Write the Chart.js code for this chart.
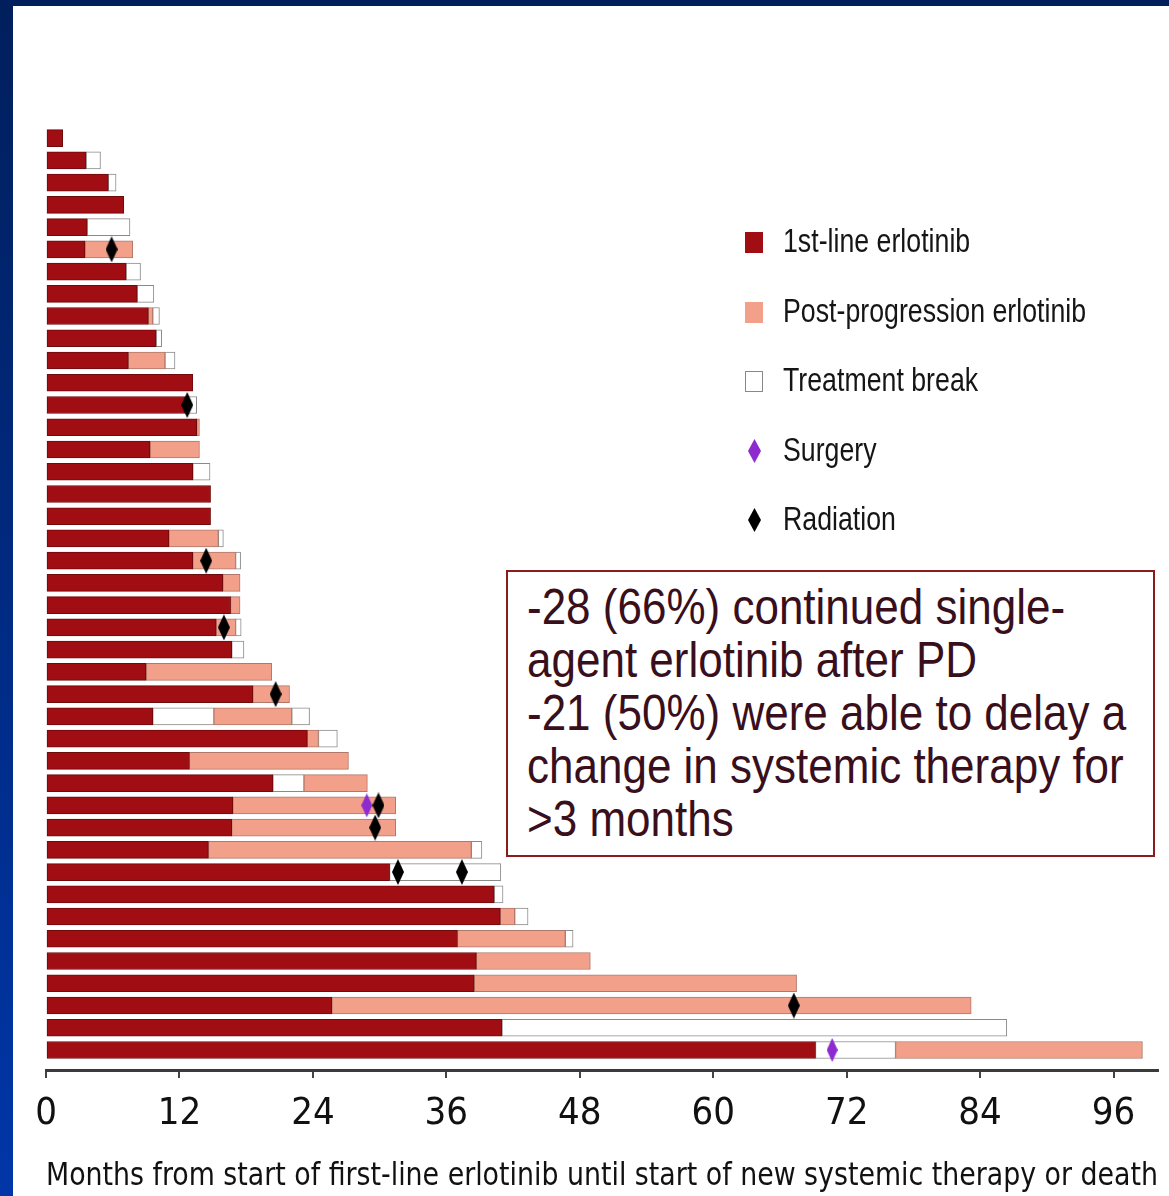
<!DOCTYPE html>
<html>
<head>
<meta charset="utf-8">
<script src="https://cdn.jsdelivr.net/npm/chart.js@4.4.1/dist/chart.umd.min.js"></script>
<style>
  body { margin: 0; background: #fff; }
  #slide { position: relative; width: 1169px; height: 1196px; overflow: hidden; background: #fff; color: #111; }
  #topband { position: absolute; left: 0; top: 0; width: 1169px; height: 6px; background: #001f5c; }
  #leftband { position: absolute; left: 0; top: 0; width: 13px; height: 1196px;
              background: linear-gradient(#001f5c, #0036a8); }
  canvas { position: absolute; left: 0; top: 0; }
  .mark { position: absolute; left: 745px; box-sizing: border-box; }
  .sq { width: 18px; height: 21px; }
  .dia { width: 13px; height: 24px; left: 748px; clip-path: polygon(50% 0, 100% 50%, 50% 100%, 0 50%); }
  .lab { position: absolute; left: 783px; font-family: 'Liberation Sans', Arial, sans-serif; font-size: 33px;
         line-height: 40px; white-space: nowrap; transform: scaleX(0.81); transform-origin: left top; color: #151515; }
  #note { position: absolute; left: 506px; top: 570px; width: 649px; height: 287px; box-sizing: border-box;
          border: 2px solid #8b1c1c; background: #fff; }
  #note div { position: absolute; left: 19px; top: 9px; transform: scaleX(0.88); transform-origin: left top;
              font-family: 'Liberation Sans', Arial, sans-serif; font-size: 50px; line-height: 53px;
              color: #3a0f1c; white-space: nowrap; }
</style>
</head>
<body>
<div id="slide">
  <canvas id="swimmer" width="1169" height="1196"></canvas>
  <div id="topband"></div>
  <div id="leftband"></div>

  <div class="mark sq" style="top:232px;background:#a00d12;"></div>
  <div class="lab" style="top:221px;">1st-line erlotinib</div>
  <div class="mark sq" style="top:302px;background:#f2a08a;"></div>
  <div class="lab" style="top:291px;">Post-progression erlotinib</div>
  <div class="mark sq" style="top:371px;background:#fff;border:1.5px solid #888;"></div>
  <div class="lab" style="top:360px;">Treatment break</div>
  <div class="mark dia" style="top:439px;background:#8e2bd0;"></div>
  <div class="lab" style="top:430px;">Surgery</div>
  <div class="mark dia" style="top:508px;background:#000;"></div>
  <div class="lab" style="top:499px;">Radiation</div>

  <div id="note"><div>-28 (66%) continued single-<br>agent erlotinib after PD<br>-21 (50%) were able to delay a<br>change in systemic therapy for<br>&gt;3 months</div></div>
</div>

<script>
// months from start of first-line erlotinib, one entry per patient (top to bottom)
const firstLine = [1.5, 3.6, 5.6, 7.0, 3.7, 3.5, 7.2, 8.2, 9.2, 9.9, 7.4, 13.2, 12.5, 13.55, 9.35, 13.2, 14.8, 14.8,
  11.05, 13.2, 15.9, 16.6, 15.3, 16.7, 9.0, 18.6, 9.6, 23.5, 12.9, 20.4, 16.8, 16.7, 14.6, 30.9, 40.3, 40.85,
  37.0, 38.7, 38.5, 25.7, 41.0, 69.2];

const postProg = [null, null, null, null, null, [3.5, 7.8], null, null, [9.2, 9.6], null, [7.4, 10.7], null, null,
  [13.55, 13.8], [9.35, 13.8], null, null, null, [11.05, 15.5], [13.2, 17.05], [15.9, 17.45], [16.6, 17.45],
  [15.3, 17.05], null, [9.0, 20.3], [18.6, 21.9], [15.1, 22.1], [23.5, 24.5], [12.9, 27.2], [23.2, 28.9],
  [16.8, 31.45], [16.7, 31.45], [14.6, 38.25], null, null, [40.85, 42.15], [37.0, 46.7], [38.7, 48.95],
  [38.5, 67.5], [25.7, 83.2], null, [76.4, 98.6]];

const breaks = [null, [3.6, 4.9], [5.6, 6.3], null, [3.7, 7.55], null, [7.2, 8.5], [8.2, 9.7], [9.6, 10.2],
  [9.9, 10.4], [10.7, 11.6], null, [12.5, 13.55], null, null, [13.2, 14.75], null, null, [15.5, 15.95],
  [17.05, 17.5], null, null, [17.05, 17.55], [16.7, 17.8], null, null, [9.6, 15.1], [24.5, 26.2], null,
  [20.4, 23.2], null, null, [38.25, 39.2], [30.9, 40.9], [40.3, 41.1], [42.15, 43.35], [46.7, 47.4], null,
  null, null, [41.0, 86.4], [69.2, 76.4]];

// second treatment break (row, start, end)
const secondBreak = [[26, 22.1, 23.7]];

const radiationRows = [5, 12, 19, 22, 25, 30, 31, 33, 33, 39];
const radiationMonths = [5.9, 12.7, 14.4, 16.0, 20.65, 29.9, 29.6, 31.65, 37.4, 67.25];
const surgeryRows = [30, 41];
const surgeryMonths = [28.85, 70.7];

const xTicks = [0, 12, 24, 36, 48, 60, 72, 84, 96];
const patients = firstLine.map((_, i) => i);

function diamond(color, w, h) {
  const c = document.createElement('canvas');
  c.width = w; c.height = h;
  const g = c.getContext('2d');
  g.fillStyle = color;
  g.beginPath();
  g.moveTo(w / 2, 0); g.lineTo(w, h / 2); g.lineTo(w / 2, h); g.lineTo(0, h / 2);
  g.closePath(); g.fill();
  return c;
}

const narrow = "'DejaVu Sans Condensed', sans-serif";

const barBase = { type: 'bar', borderWidth: 1, borderSkipped: false, barThickness: 17, order: 2 };

new Chart(document.getElementById('swimmer'), {
  data: {
    labels: patients,
    datasets: [
      { ...barBase, label: '1st-line erlotinib', data: firstLine.map(v => [0, v]),
        backgroundColor: '#a00d12', borderColor: '#6e0a0c' },
      { ...barBase, label: 'Post-progression erlotinib', data: postProg,
        backgroundColor: '#f2a08a', borderColor: '#b0786a' },
      { ...barBase, label: 'Treatment break', data: breaks,
        backgroundColor: '#ffffff', borderColor: '#8a8a8a' },
      { ...barBase, label: 'Treatment break', data: secondBreak.map(b => ({ y: b[0], x: [b[1], b[2]] })),
        backgroundColor: '#ffffff', borderColor: '#8a8a8a' },
      { type: 'scatter', label: 'Surgery', order: 0,
        data: surgeryRows.map((r, i) => ({ x: surgeryMonths[i], y: r })),
        pointStyle: diamond('#8e2bd0', 11, 24) },
      { type: 'scatter', label: 'Radiation', order: 0,
        data: radiationRows.map((r, i) => ({ x: radiationMonths[i], y: r })),
        pointStyle: diamond('#000000', 12, 26) }
    ]
  },
  options: {
    indexAxis: 'y',
    responsive: false,
    animation: false,
    grouped: false,
    events: [],
    layout: { padding: { left: 46, right: 11, top: 127, bottom: 0 } },
    plugins: { legend: { display: false }, tooltip: { enabled: false } },
    scales: {
      y: {
        type: 'linear', reverse: true, min: -0.5, max: 41.9, offset: false, grace: 0, display: false,
        afterBuildTicks: s => { s.min = -0.5; s.max = 41.9; }
      },
      x: {
        type: 'linear', min: 0, max: 100,
        afterBuildTicks: s => { s.ticks = xTicks.map(v => ({ value: v })); },
        afterFit: s => { s.height = 126; },
        grid: { drawOnChartArea: false, drawTicks: true, tickLength: 8, color: '#444', lineWidth: 2 },
        border: { display: true, color: '#3a3a3a', width: 3 },
        ticks: { autoSkip: false, maxRotation: 0, padding: 13, color: '#111',
                 font: { family: narrow, size: 38 } },
        title: { display: true, color: '#111', padding: { top: 0, bottom: 0 },
                 text: 'Months from start of first-line erlotinib until start of new systemic therapy or death',
                 font: { family: narrow, size: 32 } }
      }
    }
  }
});
</script>
</body>
</html>
